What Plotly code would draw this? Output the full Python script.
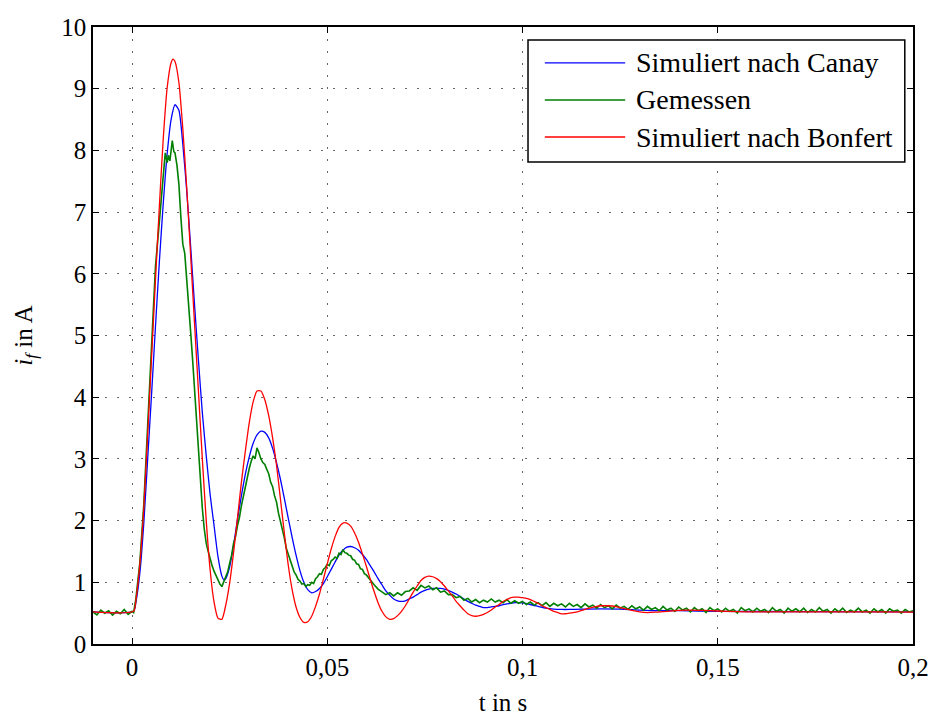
import plotly.graph_objects as go

# ---------------- data ----------------
canay_t = [-0.010, 0.0004, 0.001, 0.002, 0.003, 0.004, 0.005, 0.006, 0.007, 0.008, 0.009,
           0.010, 0.011, 0.012, 0.013, 0.014, 0.015, 0.016, 0.017, 0.018, 0.019,
           0.020, 0.021, 0.022, 0.023, 0.0235, 0.024, 0.025, 0.026, 0.027, 0.028, 0.029,
           0.030, 0.031, 0.032, 0.033, 0.034, 0.035, 0.036, 0.037, 0.038, 0.039,
           0.040, 0.041, 0.042, 0.043, 0.044, 0.045, 0.046, 0.047, 0.048, 0.049,
           0.050, 0.051, 0.052, 0.053, 0.054, 0.055, 0.056, 0.057, 0.058, 0.059,
           0.060, 0.061, 0.062, 0.063, 0.064, 0.065, 0.066, 0.067, 0.068, 0.069,
           0.070, 0.071, 0.072, 0.073, 0.074, 0.075, 0.076, 0.077, 0.078, 0.079,
           0.080, 0.081, 0.082, 0.083, 0.084, 0.085, 0.086, 0.087, 0.088, 0.089,
           0.090, 0.091, 0.092, 0.093, 0.094, 0.095, 0.096, 0.097, 0.098, 0.099,
           0.100, 0.102, 0.104, 0.106, 0.108, 0.110, 0.112, 0.115, 0.120, 0.125,
           0.130, 0.135, 0.140, 0.150, 0.170, 0.200]
canay_i = [0.52, 0.53, 0.68, 1.15, 1.95, 3.00, 4.05, 5.15, 6.20, 7.15, 7.95,
           8.50, 8.74, 8.65, 8.10, 7.35, 6.45, 5.50, 4.60, 3.75, 3.05,
           2.42, 1.92, 1.42, 1.10, 1.04, 1.06, 1.25, 1.60, 2.02, 2.40, 2.75,
           3.03, 3.25, 3.39, 3.45, 3.43, 3.34, 3.17, 2.94, 2.67, 2.36,
           2.04, 1.73, 1.44, 1.19, 1.00, 0.88, 0.83, 0.85, 0.90, 0.98,
           1.09, 1.21, 1.33, 1.44, 1.52, 1.57, 1.58, 1.56, 1.52, 1.45,
           1.37, 1.27, 1.17, 1.06, 0.96, 0.86, 0.79, 0.73, 0.70, 0.69,
           0.70, 0.73, 0.76, 0.80, 0.84, 0.87, 0.89, 0.90, 0.90, 0.90,
           0.89, 0.87, 0.84, 0.81, 0.77, 0.73, 0.69, 0.66, 0.63, 0.61,
           0.59, 0.59, 0.60, 0.61, 0.62, 0.64, 0.65, 0.66, 0.67, 0.67,
           0.665, 0.64, 0.61, 0.58, 0.565, 0.56, 0.56, 0.565, 0.57, 0.565,
           0.55, 0.54, 0.54, 0.53, 0.525, 0.52]

gemessen_t = [-0.010, -0.009, -0.008, -0.007, -0.006, -0.005, -0.004, -0.003, -0.002, -0.001,
              0.000, 0.0004, 0.001, 0.002, 0.003, 0.004, 0.005, 0.006, 0.007, 0.0075,
              0.008, 0.0085, 0.009, 0.0093, 0.0097, 0.010, 0.0103, 0.0107, 0.011, 0.0115,
              0.012, 0.0125, 0.013, 0.0135, 0.014, 0.0145, 0.015, 0.0155, 0.016, 0.0165,
              0.017, 0.0175, 0.018, 0.0185, 0.019, 0.0195, 0.020, 0.0205, 0.021, 0.0215,
              0.022, 0.0225, 0.023, 0.0235, 0.024, 0.0245, 0.025, 0.0255, 0.026, 0.0265,
              0.027, 0.0275, 0.028, 0.0285, 0.029, 0.0295, 0.030, 0.0305, 0.031, 0.0315,
              0.032, 0.0325, 0.033, 0.0335, 0.034, 0.0345, 0.035, 0.0355, 0.036, 0.0365,
              0.037, 0.0375, 0.038, 0.0385, 0.039, 0.0395, 0.040, 0.0405, 0.041, 0.0415,
              0.042, 0.0425, 0.043, 0.0435, 0.044, 0.0445, 0.045, 0.0455, 0.046, 0.0465,
              0.047, 0.0475, 0.048, 0.0485, 0.049, 0.0495, 0.050, 0.0505, 0.051, 0.0515,
              0.052, 0.0525, 0.053, 0.0535, 0.054, 0.0545, 0.055, 0.0555, 0.056, 0.0565,
              0.057, 0.0575, 0.058, 0.0585, 0.059, 0.0595, 0.060,
              0.061, 0.062, 0.063, 0.064, 0.065, 0.066, 0.067, 0.068, 0.069, 0.070,
              0.071, 0.072, 0.073, 0.074, 0.075, 0.076, 0.077, 0.078, 0.079, 0.080,
              0.081, 0.082, 0.083, 0.084, 0.085, 0.086, 0.087, 0.088, 0.089, 0.090,
              0.091, 0.092, 0.093, 0.094, 0.095, 0.096, 0.097, 0.098, 0.099, 0.100,
              0.101, 0.102, 0.103, 0.104, 0.105, 0.106, 0.107, 0.108, 0.109, 0.110,
              0.111, 0.112, 0.113, 0.114, 0.115, 0.116, 0.117, 0.118, 0.119, 0.120,
              0.121, 0.122, 0.123, 0.124, 0.125, 0.126, 0.127, 0.128, 0.129, 0.130,
              0.131, 0.132, 0.133, 0.134, 0.135, 0.136, 0.137, 0.138, 0.139, 0.140,
              0.141, 0.142, 0.143, 0.144, 0.145, 0.146, 0.147, 0.148, 0.149, 0.150,
              0.151, 0.152, 0.153, 0.154, 0.155, 0.156, 0.157, 0.158, 0.159, 0.160,
              0.161, 0.162, 0.163, 0.164, 0.165, 0.166, 0.167, 0.168, 0.169, 0.170,
              0.171, 0.172, 0.173, 0.174, 0.175, 0.176, 0.177, 0.178, 0.179, 0.180,
              0.181, 0.182, 0.183, 0.184, 0.185, 0.186, 0.187, 0.188, 0.189, 0.190,
              0.191, 0.192, 0.193, 0.194, 0.195, 0.196, 0.197, 0.198, 0.199, 0.200]
gemessen_i = [0.52, 0.47, 0.55, 0.50, 0.54, 0.47, 0.53, 0.49, 0.56, 0.48,
              0.53, 0.51, 0.74, 1.32, 2.25, 3.52, 4.95, 6.12, 6.85, 7.18,
              7.55, 7.96, 7.80, 7.92, 7.83, 8.04, 8.16, 7.98, 7.96, 7.76,
              7.45, 6.92, 6.48, 6.33, 5.95, 5.52, 5.06, 4.62, 4.12, 3.62,
              3.08, 2.58, 2.20, 1.86, 1.63, 1.50, 1.36, 1.27, 1.18, 1.10,
              1.04, 0.97, 0.93, 1.01, 1.08, 1.17, 1.31, 1.44, 1.63, 1.74,
              1.92, 2.05, 2.24, 2.40, 2.58, 2.70, 2.84, 2.96, 3.05, 3.00,
              3.18, 3.10, 3.00, 2.94, 2.91, 2.83, 2.76, 2.62, 2.55, 2.40,
              2.30, 2.12, 2.00, 1.84, 1.72, 1.55, 1.45, 1.34, 1.26, 1.17,
              1.12, 1.05, 1.02, 0.97, 0.98, 0.93, 0.96, 0.95, 1.00, 0.98,
              1.06, 1.09, 1.14, 1.13, 1.21, 1.24, 1.29, 1.27, 1.35, 1.37,
              1.41, 1.39, 1.47, 1.45, 1.53, 1.48, 1.47, 1.44, 1.43, 1.37,
              1.36, 1.30, 1.29, 1.22, 1.21, 1.14, 1.12,
              1.03, 0.96, 0.89, 0.84, 0.80, 0.83, 0.78, 0.83, 0.79, 0.85,
              0.86, 0.91, 0.87, 0.95, 0.91, 0.94, 0.88, 0.91, 0.84, 0.86,
              0.80, 0.80, 0.75, 0.77, 0.71, 0.74, 0.68, 0.72, 0.67, 0.71,
              0.68, 0.73, 0.68, 0.71, 0.67, 0.72, 0.66, 0.70, 0.66, 0.69,
              0.64, 0.68, 0.63, 0.67, 0.62, 0.67, 0.61, 0.66, 0.62, 0.65,
              0.60, 0.66, 0.61, 0.64, 0.59, 0.65, 0.60, 0.63, 0.58, 0.64,
              0.59, 0.62, 0.57, 0.63, 0.58, 0.61, 0.56, 0.62, 0.57, 0.60,
              0.55, 0.61, 0.56, 0.59, 0.54, 0.61, 0.55, 0.58, 0.53, 0.60,
              0.55, 0.58, 0.52, 0.59, 0.54, 0.57, 0.51, 0.59, 0.54, 0.57,
              0.52, 0.58, 0.53, 0.56, 0.50, 0.59, 0.54, 0.57, 0.52, 0.58,
              0.53, 0.56, 0.51, 0.59, 0.53, 0.56, 0.50, 0.58, 0.53, 0.57,
              0.52, 0.58, 0.51, 0.56, 0.52, 0.59, 0.53, 0.56, 0.50, 0.57,
              0.52, 0.58, 0.51, 0.55, 0.52, 0.58, 0.52, 0.55, 0.50, 0.57,
              0.52, 0.56, 0.50, 0.57, 0.53, 0.55, 0.50, 0.56, 0.52, 0.54]

bonfert_t = [-0.010, 0.0004, 0.001, 0.002, 0.003, 0.004, 0.005, 0.006, 0.007, 0.008, 0.009,
             0.010, 0.0105, 0.011, 0.012, 0.013, 0.014, 0.015, 0.016, 0.017, 0.018, 0.019,
             0.020, 0.021, 0.022, 0.023, 0.024, 0.025, 0.026, 0.027, 0.028, 0.029,
             0.030, 0.031, 0.032, 0.033, 0.034, 0.035, 0.036, 0.037, 0.038, 0.039,
             0.040, 0.041, 0.042, 0.043, 0.044, 0.045, 0.046, 0.047, 0.048, 0.049,
             0.050, 0.051, 0.052, 0.053, 0.054, 0.055, 0.056, 0.057, 0.058, 0.059,
             0.060, 0.061, 0.062, 0.063, 0.064, 0.065, 0.066, 0.067, 0.068, 0.069,
             0.070, 0.071, 0.072, 0.073, 0.074, 0.075, 0.076, 0.077, 0.078, 0.079,
             0.080, 0.081, 0.082, 0.083, 0.084, 0.085, 0.086, 0.087, 0.088, 0.089,
             0.090, 0.091, 0.092, 0.093, 0.094, 0.095, 0.096, 0.097, 0.098, 0.099,
             0.100, 0.101, 0.102, 0.103, 0.104, 0.105, 0.106, 0.107, 0.108, 0.109,
             0.110, 0.111, 0.112, 0.113, 0.114, 0.115, 0.116, 0.117, 0.118, 0.119,
             0.120, 0.121, 0.122, 0.124, 0.126, 0.128, 0.130, 0.132, 0.134, 0.137,
             0.140, 0.143, 0.146, 0.150, 0.155, 0.160, 0.170, 0.180, 0.190, 0.200]
bonfert_i = [0.52, 0.53, 0.72, 1.30, 2.20, 3.40, 4.65, 5.90, 7.10, 8.20, 9.02,
             9.42, 9.48, 9.44, 9.10, 8.35, 7.40, 6.30, 5.20, 4.10, 3.00, 2.00,
             1.20, 0.68, 0.42, 0.40, 0.63, 0.99, 1.48, 2.04, 2.62, 3.12,
             3.58, 3.92, 4.10, 4.10, 3.96, 3.70, 3.34, 2.90, 2.35, 1.80,
             1.28, 0.88, 0.60, 0.43, 0.35, 0.36, 0.45, 0.61, 0.81, 1.05,
             1.30, 1.54, 1.74, 1.89, 1.96, 1.96, 1.91, 1.80, 1.65, 1.46,
             1.26, 1.05, 0.85, 0.67, 0.53, 0.44, 0.40, 0.41, 0.46, 0.53,
             0.62, 0.73, 0.84, 0.94, 1.03, 1.08, 1.10, 1.09, 1.06, 1.01,
             0.94, 0.86, 0.78, 0.69, 0.62, 0.55, 0.49, 0.46, 0.45, 0.46,
             0.48, 0.51, 0.55, 0.60, 0.64, 0.69, 0.72, 0.75, 0.76, 0.76,
             0.75, 0.74, 0.72, 0.69, 0.66, 0.62, 0.59, 0.56, 0.53, 0.51,
             0.49, 0.49, 0.50, 0.51, 0.52, 0.54, 0.56, 0.58, 0.595, 0.61,
             0.62, 0.62, 0.62, 0.605, 0.575, 0.545, 0.52, 0.51, 0.515, 0.53,
             0.545, 0.55, 0.545, 0.535, 0.525, 0.52, 0.52, 0.52, 0.52, 0.515]

series_names = ["Simuliert nach Canay", "Gemessen", "Simuliert nach Bonfert"]
series_colors = ["#0000ff", "#007f00", "#ff0000"]

x_tickvals = [0, 0.05, 0.1, 0.15, 0.2]
x_ticktext = ["0", "0,05", "0,1", "0,15", "0,2"]
y_tickvals = [0, 1, 2, 3, 4, 5, 6, 7, 8, 9, 10]

FONT = "Liberation Serif"

# ---------------- figure ----------------
fig = go.Figure()
fig.add_trace(go.Scatter(x=canay_t, y=canay_i, mode="lines", name=series_names[0],
                         line=dict(color=series_colors[0], width=1.3, shape="spline", smoothing=0.6),
                         showlegend=False))
fig.add_trace(go.Scatter(x=gemessen_t, y=gemessen_i, mode="lines", name=series_names[1],
                         line=dict(color=series_colors[1], width=1.6),
                         showlegend=False))
fig.add_trace(go.Scatter(x=bonfert_t, y=bonfert_i, mode="lines", name=series_names[2],
                         line=dict(color=series_colors[2], width=1.3, shape="spline", smoothing=0.6),
                         showlegend=False))

axis_common = dict(
    showline=True, linecolor="black", linewidth=1.5, mirror="ticks",
    ticks="inside", ticklen=6, tickwidth=1, tickcolor="black",
    showgrid=True, gridcolor="#666666", gridwidth=1, griddash="1.5px,10.5px",
    zeroline=False,
    tickfont=dict(family=FONT, size=25, color="black"),
)

fig.update_xaxes(range=[-0.01, 0.2], tickvals=x_tickvals, ticktext=x_ticktext,
                 title=dict(text="t in s", font=dict(family=FONT, size=25, color="black"), standoff=14),
                 **axis_common)
fig.update_yaxes(range=[0, 10], tickvals=y_tickvals,
                 title=dict(text="<i>i</i><sub><i>f</i></sub> in A",
                            font=dict(family=FONT, size=25, color="black"), standoff=22),
                 **axis_common)

# custom legend box (plot-paper coordinates)
shapes = [dict(type="rect", xref="paper", yref="paper", x0=0.5305, x1=0.990, y0=0.781, y1=0.979,
               line=dict(color="black", width=1.5), fillcolor="white", layer="above")]
annotations = []
legend_rows = [0.9417, 0.8817, 0.8217]
for name, color, yy in zip(series_names, series_colors, legend_rows):
    shapes.append(dict(type="line", xref="paper", yref="paper", x0=0.551, x1=0.649, y0=yy, y1=yy,
                       line=dict(color=color, width=1.3), layer="above"))
    annotations.append(dict(xref="paper", yref="paper", x=0.660, y=yy, text=name, showarrow=False,
                            xanchor="left", yanchor="middle",
                            font=dict(family=FONT, size=28, color="black")))

fig.update_layout(
    width=932, height=718,
    margin=dict(l=93, r=19, t=27, b=74, autoexpand=False),
    paper_bgcolor="white", plot_bgcolor="white",
    font=dict(family=FONT, size=25, color="black"),
    shapes=shapes, annotations=annotations,
    showlegend=False,
)

fig.write_html("out.html")
